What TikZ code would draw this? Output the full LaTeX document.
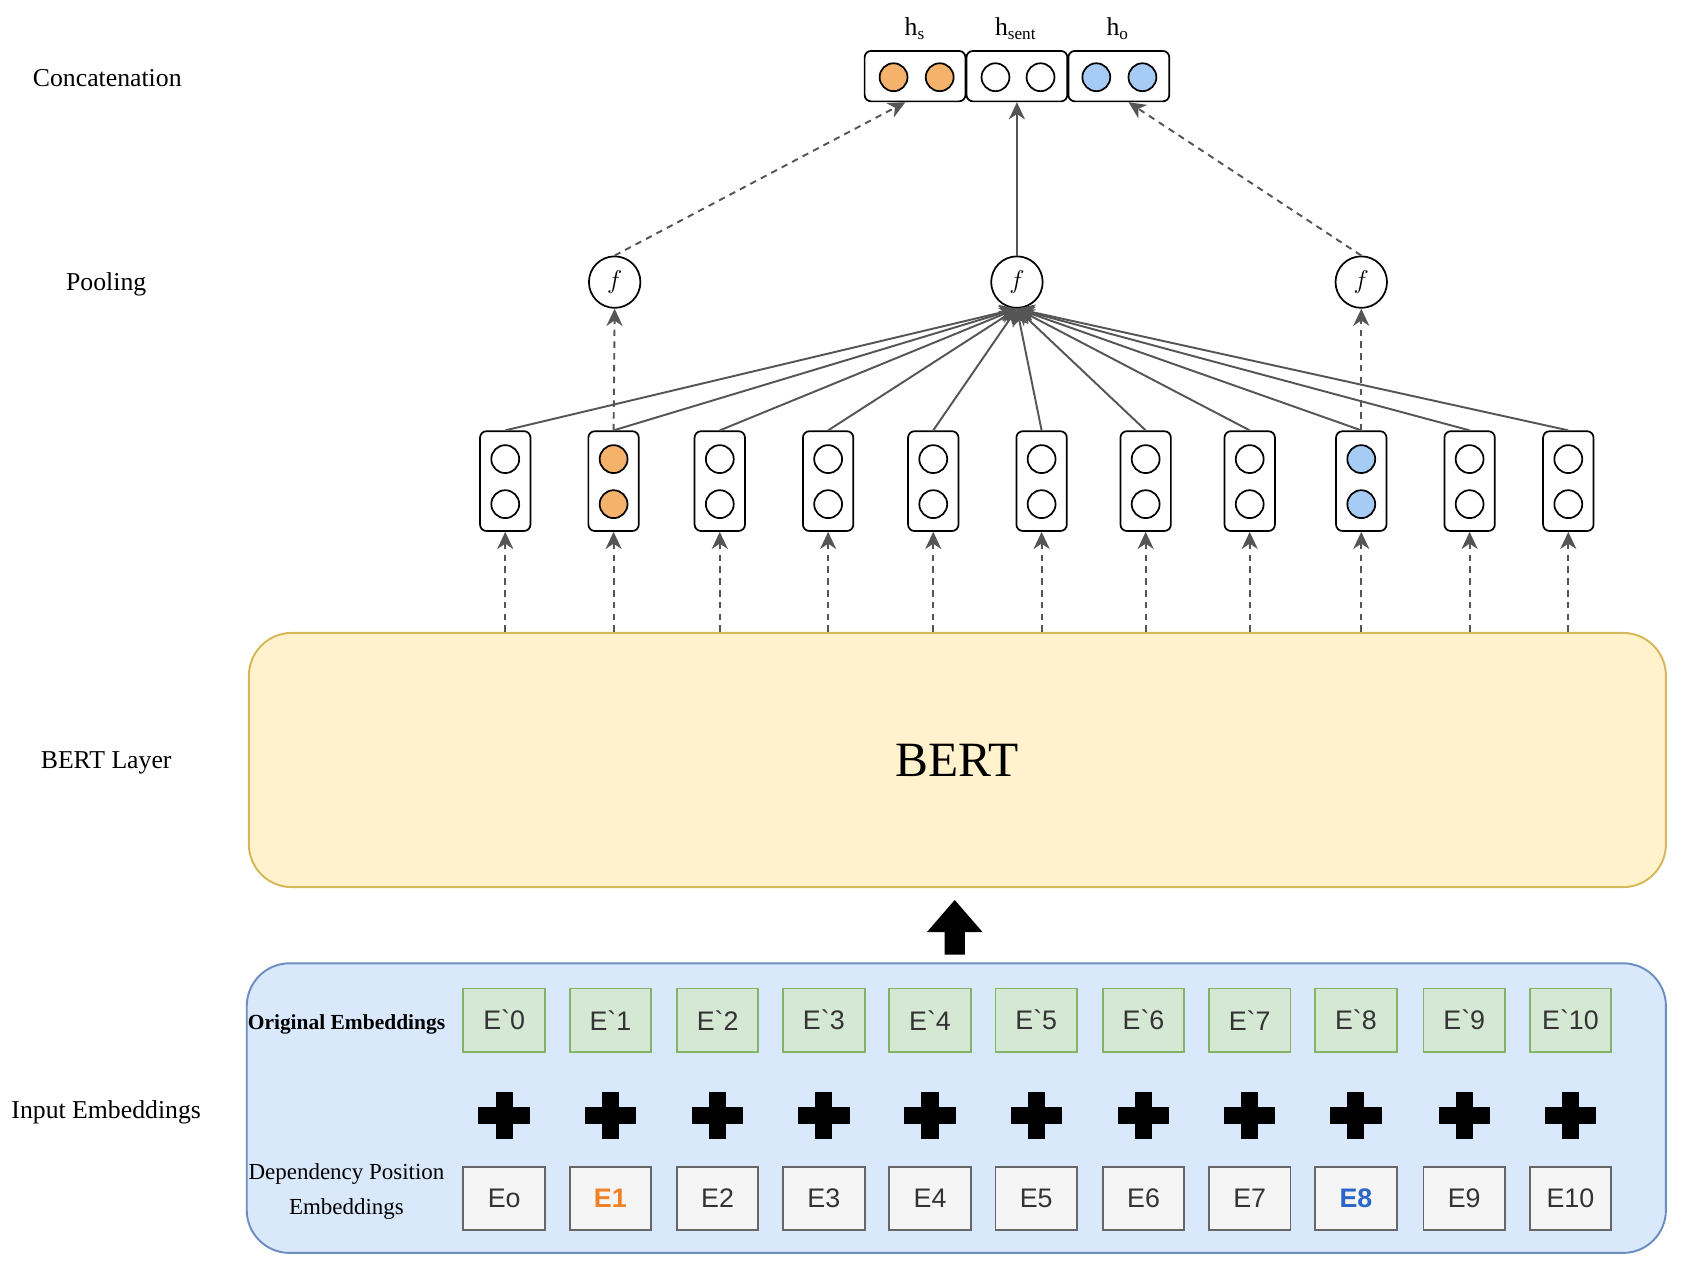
\documentclass[tikz,border=0pt]{standalone}
\usepackage{fontspec}
\setmainfont{Liberation Serif}
\setsansfont{Liberation Sans}
\usetikzlibrary{arrows.meta}
\definecolor{arrowgray}{HTML}{555555}
\definecolor{bertfill}{HTML}{FFF2CC}
\definecolor{bertline}{HTML}{D6B656}
\definecolor{inputfill}{HTML}{DAE8FC}
\definecolor{inputline}{HTML}{6C8EBF}
\definecolor{origfill}{HTML}{D5E8D4}
\definecolor{origline}{HTML}{82B366}
\definecolor{depfill}{HTML}{F5F5F5}
\definecolor{depline}{HTML}{666666}
\definecolor{textgray}{HTML}{333333}
\definecolor{subjorange}{HTML}{F5B26B}
\definecolor{objblue}{HTML}{A6CBF5}
\definecolor{subjtext}{HTML}{F08125}
\definecolor{objtext}{HTML}{2B67C9}
\begin{document}
\begin{tikzpicture}[x=0.5pt, y=-0.5pt,
  lab/.style={font=\fontsize{12}{14}\selectfont},
  unit/.style={draw, circle, line width=0.8pt, minimum size=13pt, inner sep=0pt},
  vecbox/.style={draw, rounded corners=3pt, line width=0.8pt, fill=white, minimum width=23.5pt, minimum height=46.5pt, inner sep=0pt},
  catbox/.style={draw, rounded corners=3pt, line width=0.8pt, fill=white, minimum width=47pt, minimum height=23.5pt, inner sep=0pt},
  pool/.style={draw, circle, line width=0.8pt, minimum size=24pt, inner sep=0pt, fill=white, font=\large},
  orig/.style={draw=origline, fill=origfill, line width=0.9pt, minimum width=38pt, minimum height=29.5pt, inner sep=0pt, font=\sffamily\fontsize{12.5}{14}\selectfont, text=textgray},
  dep/.style={orig, draw=depline, fill=depfill},
  feed/.style={arrowgray, line width=0.9pt, -{Stealth[length=8pt,width=7.5pt,inset=2.5pt]}},
  feeddash/.style={feed, dash pattern=on 3pt off 2.5pt},
]
\useasboundingbox (0,0) rectangle (1568,1186);

% layer names
\node[lab] (lcat) at (100,73) {Concatenation};
\node[lab] (lpool) at (99,265) {Pooling};
\node[lab] (lbert) at (99,711) {BERT Layer};
\node[lab] (linput) at (99,1037) {Input Embeddings};

% big boxes
\node[draw=bertline, fill=bertfill, line width=0.9pt, rounded corners=20pt, minimum width=660.5pt, minimum height=118.5pt, font=\fontsize{23}{26}\selectfont] (bert) at (892.5,708.5) {BERT};
\node[draw=inputline, fill=inputfill, line width=0.9pt, rounded corners=20pt, minimum width=661.5pt, minimum height=135pt] (input) at (891.5,1033) {};

% input embeddings
\node[font=\bfseries\fontsize{10}{12}\selectfont] (lorig) at (323,955) {Original Embeddings};
\node[font=\fontsize{10.7}{16.5}\selectfont, align=center] (ldep) at (323,1111) {Dependency Position\\Embeddings};
\foreach \x/\t [count=\i from 0] in {470/Eo, 569/{\color{subjtext}\bfseries E1}, 669/E2, 768/E3, 867/E4, 966/E5, 1066/E6, 1165/E7, 1264/{\color{objtext}\bfseries E8}, 1365/E9, 1464/E10} {
  \node[orig] (o\i) at (\x,951) {E\textasciigrave\i};
  \node[dep] (d\i) at (\x,1117) {\t};
  \fill ({\x-24},1032) rectangle ({\x+24},1048);
  \fill ({\x-8},1018) rectangle ({\x+8},1062);
}

% arrow into BERT
\fill (890,839) -- (916,869) -- (899.5,869) -- (899.5,890) -- (880.5,890) -- (880.5,869) -- (864,869) -- cycle;

% token vectors
\foreach \x/\c [count=\i] in {471/white, 572/subjorange, 671/white, 772/white, 870/white, 971/white, 1068/white, 1165/white, 1269/objblue, 1370/white, 1462/white} {
  \node[vecbox] (col\i) at (\x,448.5) {};
  \node[unit, fill=\c] (col\i a) at (\x,428) {};
  \node[unit, fill=\c] (col\i b) at (\x,470) {};
  \draw[feeddash] (col\i |- bert.north) -- (col\i.south);
}

% pooling
\node[pool] (fs) at (573,263) {$f$};
\node[pool] (fsent) at (948,263) {$f$};
\node[pool] (fo) at (1269,263) {$f$};
\foreach \i in {1,...,11}
  \draw[feed] (col\i.north) -- (fsent.south);
\draw[feeddash] (col2.north) -- (fs.south);
\draw[feeddash] (col9.north) -- (fo.south);

% concatenation
\node[catbox] (cs) at (853,71) {};
\node[catbox] (csent) at (948,71) {};
\node[catbox] (co) at (1043,71) {};
\node[unit, fill=subjorange] (cs1) at (833,72) {};
\node[unit, fill=subjorange] (cs2) at (876,72) {};
\node[unit] (csent1) at (928,72) {};
\node[unit] (csent2) at (970,72) {};
\node[unit, fill=objblue] (co1) at (1022,72) {};
\node[unit, fill=objblue] (co2) at (1065,72) {};
\node[lab] (hs) at (853,27) {h\textsubscript{s}};
\node[lab] (hsent) at (947,27) {h\textsubscript{sent}};
\node[lab] (ho) at (1042,27) {h\textsubscript{o}};
\draw[feeddash] (fs.north) -- ([xshift=-4.5pt]cs.south);
\draw[feed] (fsent) -- (csent.south);
\draw[feeddash] (fo.north) -- ([xshift=4.5pt]co.south);
\end{tikzpicture}
\end{document}
